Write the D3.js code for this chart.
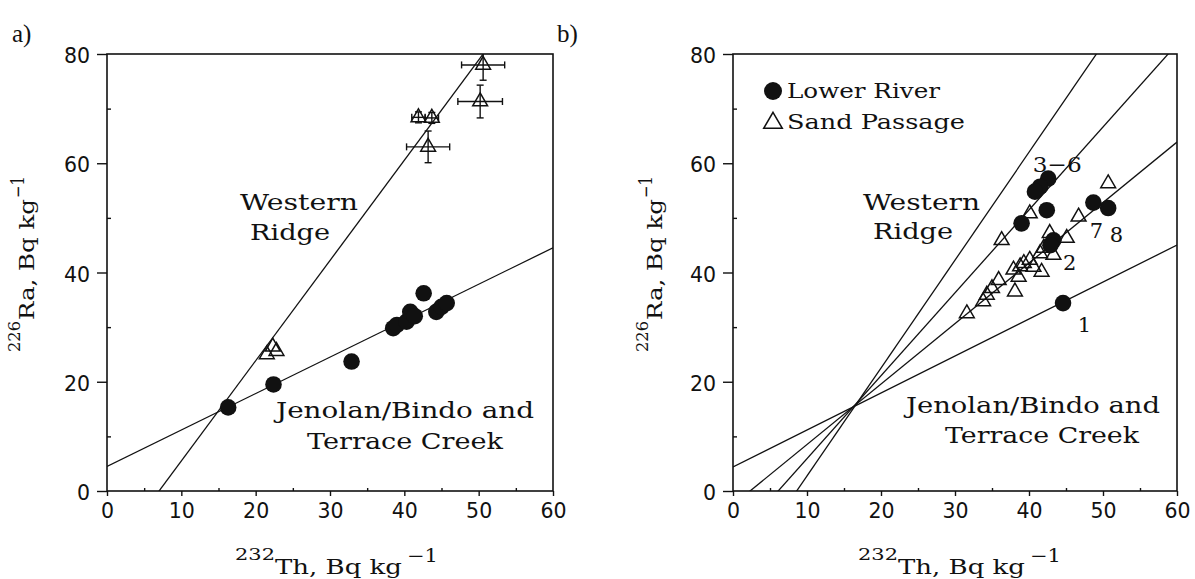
<!DOCTYPE html>
<html><head><meta charset="utf-8">
<script src="https://cdn.jsdelivr.net/npm/d3@7"></script>
<style>body{margin:0;background:#fff}svg{display:block}</style>
</head><body><svg id="c" width="1195" height="579"></svg>
<script>
// ---- tick values ----
const xTicks = [0, 10, 20, 30, 40, 50, 60];
const xMinor = [5, 15, 25, 35, 45, 55];
const yTicks = [0, 20, 40, 60, 80];
const yMinor = [10, 30, 50, 70];

// ---- panel a data ----
const aCircX = [16.3, 22.4, 32.9, 42.6, 38.5, 39.0, 40.3, 40.8, 41.4, 44.3, 45.0, 45.7];
const aCircY = [15.3, 19.5, 23.7, 36.2, 29.8, 30.4, 31.0, 32.8, 32.0, 32.8, 33.7, 34.4];
const aTriX = [50.6, 50.2, 43.2, 41.9, 43.7, 21.5, 22.3, 22.8];
const aTriY = [78.0, 71.3, 63.0, 68.4, 68.3, 25.0, 26.4, 25.6];
const aTriXErr = [2.9, 3.0, 2.9, 0.9, 0.9, 0, 0, 0];
const aTriYErr = [2.8, 3.0, 2.9, 1.0, 1.0, 0, 0, 0];
const aLineSlope = [1.835, 0.667];
const aLineIntercept = [-12.85, 4.5];

// ---- panel b data ----
const bCircX = [42.6, 41.5, 40.8, 42.4, 39.0, 48.7, 50.7, 43.3, 42.9, 44.6];
const bCircY = [57.2, 55.7, 54.8, 51.4, 49.0, 52.8, 51.8, 45.9, 45.0, 34.4];
const bTriX = [50.7, 46.7, 40.1, 36.3, 45.1, 42.8, 41.5, 43.3, 40.1, 38.8, 37.9, 41.7, 38.6, 40.6, 35.9, 35.0, 34.3, 33.8, 38.1, 31.6, 39.3, 42.0];
const bTriY = [56.3, 50.2, 50.8, 45.9, 46.3, 47.2, 43.5, 43.2, 42.3, 41.1, 40.5, 40.1, 39.2, 41.0, 38.6, 37.1, 35.9, 34.7, 36.5, 32.5, 41.7, 44.5];
const bLineSlope = [1.975, 1.518, 1.107, 0.677];
const bLineIntercept = [-16.99, -9.26, -2.55, 4.4];
const bPointLabels = ["3\u22126", "7", "8", "2", "1"];
const legendLabels = ["Lower River", "Sand Passage"];

const SERIF = "'DejaVu Serif', serif";
const SANS = "'DejaVu Sans', sans-serif";
const svg = d3.select("#c");

function panel(id, x0, x1) {
  const x = d3.scaleLinear().domain([0, 60]).range([x0, x1]);
  const y = d3.scaleLinear().domain([0, 80]).range([491, 54]);
  const g = svg.append("g");
  g.append("clipPath").attr("id", "clip" + id).append("rect")
    .attr("x", x(0)).attr("y", y(80)).attr("width", x(60) - x(0)).attr("height", y(0) - y(80));
  const ax = g.append("g").attr("transform", `translate(0,${y(0)})`)
    .call(d3.axisBottom(x).tickValues(xTicks).tickSize(5).tickPadding(7).tickSizeOuter(0).tickFormat(d3.format("d")));
  const axm = g.append("g").attr("transform", `translate(0,${y(0)})`)
    .call(d3.axisBottom(x).tickValues(xMinor).tickSize(-3).tickSizeOuter(0).tickFormat(""));
  const ay = g.append("g").attr("transform", `translate(${x(0)},0)`)
    .call(d3.axisLeft(y).tickValues(yTicks).tickSize(10).tickPadding(7).tickSizeOuter(0).tickFormat(d3.format("d")));
  const aym = g.append("g").attr("transform", `translate(${x(0)},0)`)
    .call(d3.axisLeft(y).tickValues(yMinor).tickSize(-4).tickSizeOuter(0).tickFormat(""));
  [ax, axm, ay, aym].forEach(a => {
    a.select(".domain").remove();
    a.selectAll("line").attr("stroke", "#111").attr("stroke-width", 1.4);
    a.selectAll("text").attr("font-family", SANS).attr("font-size", 20.5).attr("fill", "#111");
  });
  ay.selectAll("text").attr("dy", "0.42em");
  g.append("rect").attr("x", x(0)).attr("y", y(80)).attr("width", x(60) - x(0)).attr("height", y(0) - y(80))
    .attr("fill", "none").attr("stroke", "#111").attr("stroke-width", 1.6);
  return {g, x, y};
}

function fitLines(p, id, slopes, intercepts) {
  const lg = p.g.append("g").attr("clip-path", `url(#clip${id})`);
  slopes.forEach((m, i) => {
    const b = intercepts[i];
    lg.append("line")
      .attr("x1", p.x(0)).attr("y1", p.y(b))
      .attr("x2", p.x(60)).attr("y2", p.y(m * 60 + b))
      .attr("stroke", "#111").attr("stroke-width", 1.3);
  });
}

function circles(p, xs, ys) {
  p.g.append("g").selectAll("circle").data(xs).join("circle")
    .attr("cx", d => p.x(d)).attr("cy", (d, i) => p.y(ys[i])).attr("r", 8.3).attr("fill", "#111");
}

const tri = d3.symbol(d3.symbolTriangle).size(95);
function triangles(p, xs, ys) {
  p.g.append("g").selectAll("path").data(xs).join("path")
    .attr("d", tri)
    .attr("transform", (d, i) => `translate(${p.x(d)},${p.y(ys[i])})`)
    .attr("fill", "none").attr("stroke", "#111").attr("stroke-width", 1.5);
}

function errorBars(p, xs, ys, xe, ye) {
  const eg = p.g.append("g").attr("stroke", "#111").attr("stroke-width", 1.4).attr("clip-path", "url(#clipA)");
  xs.forEach((xv, i) => {
    const cx = p.x(xv), cy = p.y(ys[i]);
    if (xe[i] > 0) {
      const l = p.x(xv - xe[i]), r = p.x(xv + xe[i]);
      eg.append("line").attr("x1", l).attr("x2", r).attr("y1", cy).attr("y2", cy);
      eg.append("line").attr("x1", l).attr("x2", l).attr("y1", cy - 3.5).attr("y2", cy + 3.5);
      eg.append("line").attr("x1", r).attr("x2", r).attr("y1", cy - 3.5).attr("y2", cy + 3.5);
    }
    if (ye[i] > 0) {
      const t = p.y(ys[i] + ye[i]), bt = p.y(ys[i] - ye[i]);
      eg.append("line").attr("x1", cx).attr("x2", cx).attr("y1", t).attr("y2", bt);
      eg.append("line").attr("x1", cx - 3.5).attr("x2", cx + 3.5).attr("y1", t).attr("y2", t);
      eg.append("line").attr("x1", cx - 3.5).attr("x2", cx + 3.5).attr("y1", bt).attr("y2", bt);
    }
  });
}

function label(x, y, txt, size, len, family) {
  const t = svg.append("text").attr("x", x).attr("y", y)
    .attr("font-family", family || SERIF).attr("font-size", size).attr("fill", "#111").text(txt);
  if (len) t.attr("textLength", len).attr("lengthAdjust", "spacingAndGlyphs");
  return t;
}

function xTitle(x0) {
  label(x0, 560, "232", 16, 40);
  label(x0 + 40, 574, "Th, Bq kg", 20, 127);
  label(x0 + 172, 562, "\u22121", 18, 31);
}
function yTitle(bx) {
  const g = svg.append("g").attr("transform", `translate(${bx},0) rotate(-90)`);
  const t = (u, v, s, size, len) => g.append("text").attr("x", u).attr("y", v)
    .attr("font-family", SERIF).attr("font-size", size).attr("fill", "#111")
    .attr("textLength", len).attr("lengthAdjust", "spacingAndGlyphs").text(s);
  t(-352, -14, "226", 16, 31);
  t(-320, 0, "Ra, Bq kg", 20, 121);
  t(-198, -10, "\u22121", 18, 22);
}

// ===== Panel a =====
const A = panel("A", 107, 553);
fitLines(A, "A", aLineSlope, aLineIntercept);
errorBars(A, aTriX, aTriY, aTriXErr, aTriYErr);
triangles(A, aTriX, aTriY);
circles(A, aCircX, aCircY);
label(240, 210, "Western", 23, 118);
label(250, 240, "Ridge", 23, 80);
label(276, 418, "Jenolan/Bindo and", 23, 258);
label(307, 449, "Terrace Creek", 23, 196);
label(12, 42, "a)", 25, null, "'Liberation Serif', serif");
xTitle(235);
yTitle(33.5);

// ===== Panel b =====
const B = panel("B", 733, 1177);
fitLines(B, "B", bLineSlope, bLineIntercept);
triangles(B, bTriX, bTriY);
circles(B, bCircX, bCircY);
label(863, 210, "Western", 23, 117);
label(873, 239, "Ridge", 23, 80);
label(906, 413, "Jenolan/Bindo and", 23, 254);
label(945, 443, "Terrace Creek", 23, 194);
label(557, 42, "b)", 25, null, "'Liberation Serif', serif");
xTitle(858);
yTitle(662);
const bLabPos = [[40.5, 58.4], [48.2, 46.3], [50.9, 45.6], [44.6, 40.5], [46.6, 29.1]];
bPointLabels.forEach((s, i) => {
  label(B.x(bLabPos[i][0]), B.y(bLabPos[i][1]), s, 21, i === 0 ? 49 : null);
});
// legend
svg.append("circle").attr("cx", 773).attr("cy", 91).attr("r", 9).attr("fill", "#111");
svg.append("path").attr("d", d3.symbol(d3.symbolTriangle).size(150)).attr("transform", "translate(773,123)")
  .attr("fill", "none").attr("stroke", "#111").attr("stroke-width", 1.5);
label(787, 98, legendLabels[0], 20, 153);
label(787, 129, legendLabels[1], 20, 178);
</script></body></html>
